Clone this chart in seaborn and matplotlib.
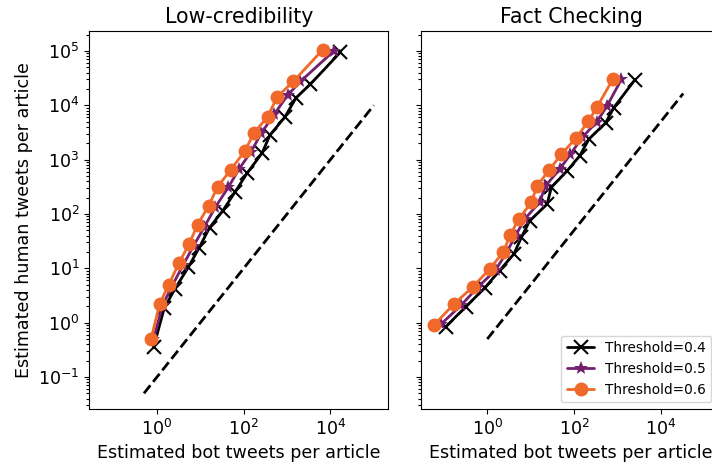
import numpy as np
import pandas as pd
import seaborn as sns
from matplotlib import pyplot as plt
from matplotlib.ticker import LogLocator, NullLocator, NullFormatter

thresholds = ["Threshold=0.4", "Threshold=0.5", "Threshold=0.6"]

# Low-credibility panel
lowcred_bot_04 = [0.84, 1.47, 2.6, 5.3, 9.4, 16.3, 33, 64, 120, 265, 405, 880, 1620, 3460, 17000]
lowcred_human_04 = [0.36, 1.85, 4.2, 10.5, 24, 56, 115, 258, 565, 1320, 2850, 6000, 13800, 24500, 95000]
lowcred_bot_05 = [0.83, 1.35, 2.25, 4.0, 7.0, 12.4, 22, 44, 78, 147, 257, 510, 1040, 2040, 12000]
lowcred_human_05 = [0.5, 2.1, 4.8, 11.5, 26, 58, 132, 308, 670, 1390, 3100, 6900, 15500, 27500, 100000]
lowcred_bot_06 = [0.73, 1.15, 1.87, 3.2, 5.5, 8.6, 15.5, 25, 50, 105, 173, 355, 600, 1400, 6600]
lowcred_human_06 = [0.5, 2.2, 5.0, 12.4, 28, 63, 141, 316, 650, 1420, 3090, 6200, 14500, 27500, 105000]

# Fact checking panel
fact_bot_04 = [0.11, 0.32, 0.87, 1.92, 4.1, 6.1, 9.5, 24, 30, 69, 135, 222, 540, 830, 2500]
fact_human_04 = [0.84, 1.97, 4.35, 9.1, 18.3, 37, 75, 152, 308, 620, 1170, 2400, 4800, 9100, 29000]
fact_bot_05 = [0.087, 0.25, 0.6, 1.55, 2.7, 4.5, 7.3, 16, 22, 47, 83, 156, 340, 580, 1240]
fact_human_05 = [0.95, 2.1, 4.46, 9.3, 18.8, 40, 81, 163, 330, 670, 1260, 2600, 5000, 9800, 30000]
fact_bot_06 = [0.06, 0.17, 0.47, 1.13, 2.3, 3.4, 5.3, 10.4, 14, 26.6, 51, 114, 214, 340, 780]
fact_human_06 = [0.92, 2.2, 4.6, 9.7, 19.6, 41, 81, 163, 330, 640, 1260, 2550, 5100, 9300, 30000]

# reference dashed lines (y = x / ratio)
lowcred_ref_x = [0.5, 1e5]
lowcred_ref_ratio = 10
fact_ref_x = [1, 3.3e4]
fact_ref_ratio = 2

colors = ["black", "#73206f", "#f0692a"]
markers = ["x", "*", "o"]
sizes = [10, 10, 10]


def make_df(bots, humans):
    frames = []
    for name, b, h in zip(thresholds, bots, humans):
        frames.append(pd.DataFrame({"bot": b, "human": h, "threshold": name}))
    return pd.concat(frames, ignore_index=True)


lowcred_df = make_df([lowcred_bot_04, lowcred_bot_05, lowcred_bot_06],
                     [lowcred_human_04, lowcred_human_05, lowcred_human_06])
fact_df = make_df([fact_bot_04, fact_bot_05, fact_bot_06],
                  [fact_human_04, fact_human_05, fact_human_06])

sns.set_style("ticks")
plt.rcParams['font.family'] = ['DejaVu Sans']
plt.rcParams['text.color'] = 'black'
plt.rcParams['axes.labelcolor'] = 'black'
plt.rcParams['xtick.color'] = 'black'
plt.rcParams['ytick.color'] = 'black'
plt.rcParams['axes.edgecolor'] = 'black'

fig, (ax1, ax2) = plt.subplots(1, 2, figsize=(7.12, 4.68), dpi=100, sharey=True)
fig.subplots_adjust(left=0.1255, right=1.012, bottom=0.126, top=0.934, wspace=0.11)

for ax, df, title, ref_x, ratio in [(ax1, lowcred_df, "Low-credibility", lowcred_ref_x, lowcred_ref_ratio),
                                    (ax2, fact_df, "Fact Checking", fact_ref_x, fact_ref_ratio)]:
    for name, c, m, s in zip(thresholds, colors, markers, sizes):
        sub = df[df["threshold"] == name]
        sns.lineplot(data=sub, x="bot", y="human", ax=ax, color=c, marker=m, markersize=s,
                     markeredgewidth=1.5 if m == "x" else 0, markeredgecolor=c,
                     linewidth=2, sort=False, estimator=None, label=name)
    rx = np.array(ref_x)
    ax.plot(rx, rx / ratio, color="black", linestyle="--", linewidth=2)
    ax.set_xscale("log")
    ax.set_yscale("log")
    ax.set_title(title, fontsize=14.8)
    ax.set_xlabel("Estimated bot tweets per article", fontsize=12.6)
    ax.set_ylabel("")
    ax.tick_params(labelsize=12.6)
    ax.xaxis.set_minor_locator(NullLocator())
    ax.yaxis.set_major_locator(LogLocator(base=10, numticks=20))
    ax.yaxis.set_minor_locator(LogLocator(base=10, subs=np.arange(2, 10), numticks=100))
    ax.yaxis.set_minor_formatter(NullFormatter())
    ax.tick_params(axis="y", which="minor", length=2.5, width=0.8, left=True)

ax1.set_xlim(10 ** -1.56, 10 ** 5.34)
ax2.set_xlim(10 ** -1.52, 10 ** 5.38)
ax1.set_ylim(10 ** -1.59, 10 ** 5.37)
ax1.set_ylabel("Estimated human tweets per article", fontsize=12.6)
ax1.legend_.remove()
ax2.legend(loc="lower right", fontsize=9.8, bbox_to_anchor=(0.992, 0.0), framealpha=0.8)

fig.savefig("out.png", dpi=100)
